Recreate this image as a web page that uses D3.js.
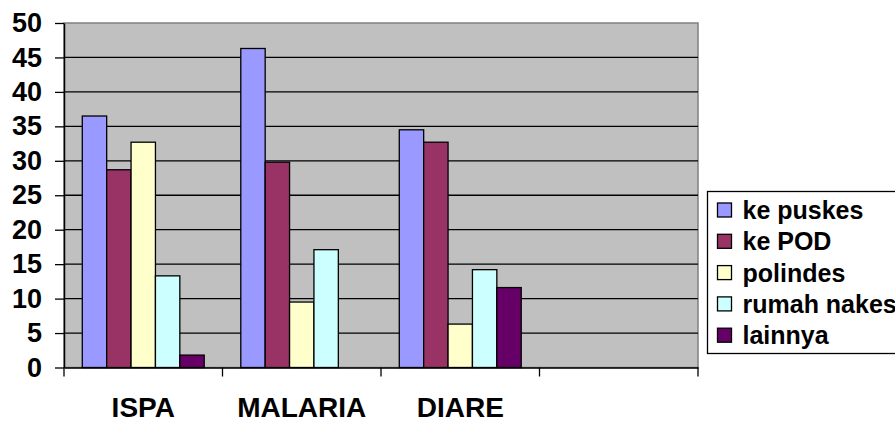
<!DOCTYPE html>
<html>
<head>
<meta charset="utf-8">
<script src="https://cdn.jsdelivr.net/npm/d3@7"></script>
<style>
  html, body { margin: 0; padding: 0; background: #fff; }
  svg { display: block; font-family: Arial, "Liberation Sans", sans-serif; font-weight: bold; }
</style>
</head>
<body>
<div id="chart"></div>
<script>
// data
const categories = ['ISPA', 'MALARIA', 'DIARE', ''];
const seriesNames = ['ke puskes', 'ke POD', 'polindes', 'rumah nakes', 'lainnya'];
const puskes = [36.5, 46.3, 34.5, null];
const pod = [28.7, 29.8, 32.7, null];
const polindes = [32.7, 9.5, 6.3, null];
const rumahNakes = [13.3, 17.1, 14.2, null];
const lainnya = [1.8, null, 11.6, null];
const yTicks = [0, 5, 10, 15, 20, 25, 30, 35, 40, 45, 50];

const colors = ['#9999FF', '#993366', '#FFFFCC', '#CCFFFF', '#660066'];
const allSeries = [puskes, pod, polindes, rumahNakes, lainnya];

const W = 895, H = 423;
const plotL = 64, plotR = 698, plotT = 23, plotB = 367.5;

const svg = d3.select('#chart').append('svg')
  .attr('width', W).attr('height', H);

const x0 = d3.scaleBand().domain(categories).range([plotL, plotR]).padding(0);
const x1 = d3.scaleBand().domain(seriesNames).range([0, x0.bandwidth()])
  .paddingInner(0).paddingOuter(0.75);
const y = d3.scaleLinear().domain([0, 50]).range([plotB, plotT]);

// plot background
svg.append('rect')
  .attr('x', plotL).attr('y', plotT)
  .attr('width', plotR - plotL).attr('height', plotB - plotT)
  .attr('fill', '#C0C0C0')
  .attr('stroke', '#808080').attr('stroke-width', 1.5);

// gridlines
svg.append('g')
  .selectAll('line')
  .data(yTicks.filter(t => t > 0 && t < 50))
  .join('line')
  .attr('x1', plotL).attr('x2', plotR)
  .attr('y1', d => y(d)).attr('y2', d => y(d))
  .attr('stroke', '#000').attr('stroke-width', 1.3);

// bars
const rows = categories.map((c, i) => seriesNames.map((s, j) => ({ cat: c, s, v: allSeries[j][i], color: colors[j] })));
svg.append('g')
  .selectAll('g')
  .data(rows)
  .join('g')
  .attr('transform', (d, i) => `translate(${x0(categories[i])},0)`)
  .selectAll('rect')
  .data(d => d.filter(e => e.v != null))
  .join('rect')
  .attr('x', d => x1(d.s))
  .attr('width', x1.bandwidth())
  .attr('y', d => y(d.v))
  .attr('height', d => y(0) - y(d.v))
  .attr('fill', d => d.color)
  .attr('stroke', '#000').attr('stroke-width', 1.3);

// y axis
const yAxis = svg.append('g')
  .attr('transform', `translate(${plotL},0)`)
  .call(d3.axisLeft(y).tickValues(yTicks).tickSize(9).tickSizeOuter(0).tickPadding(13));
yAxis.select('.domain').attr('stroke', '#000').attr('stroke-width', 1.5);
yAxis.selectAll('.tick line').attr('stroke', '#000').attr('stroke-width', 1.3);
yAxis.selectAll('.tick text')
  .attr('font-size', 27).attr('font-weight', 'bold').attr('fill', '#000')
  .attr('font-family', 'Arial, "Liberation Sans", sans-serif');

// x axis
const xAxis = svg.append('g')
  .attr('transform', `translate(0,${plotB})`)
  .call(d3.axisBottom(x0).tickSize(0).tickPadding(30));
xAxis.select('.domain').attr('stroke', '#000').attr('stroke-width', 1.5);
xAxis.selectAll('.tick text')
  .attr('font-size', 28).attr('font-weight', 'bold').attr('fill', '#000')
  .attr('font-family', 'Arial, "Liberation Sans", sans-serif');
// category separator ticks
const sepTicks = categories.map(c => x0(c)).concat([plotR]);
svg.append('g')
  .selectAll('line')
  .data(sepTicks)
  .join('line')
  .attr('x1', d => d).attr('x2', d => d)
  .attr('y1', plotB).attr('y2', plotB + 9)
  .attr('stroke', '#000').attr('stroke-width', 1.3);

// legend
const legend = svg.append('g').attr('transform', 'translate(707.5,191.5)');
legend.append('rect')
  .attr('x', 0).attr('y', 0).attr('width', 200).attr('height', 162)
  .attr('fill', '#fff').attr('stroke', '#000').attr('stroke-width', 1.3);
const item = legend.selectAll('g.item')
  .data(seriesNames)
  .join('g')
  .attr('class', 'item')
  .attr('transform', (d, i) => `translate(0,${18.5 + i * 31.3})`);
item.append('rect')
  .attr('x', 10).attr('y', -7).attr('width', 14).attr('height', 14)
  .attr('fill', (d, i) => colors[i])
  .attr('stroke', '#000').attr('stroke-width', 1.3);
item.append('text')
  .attr('x', 35).attr('y', 0).attr('dy', '0.36em')
  .attr('font-size', 25).attr('fill', '#000')
  .text(d => d);
</script>
</body>
</html>
